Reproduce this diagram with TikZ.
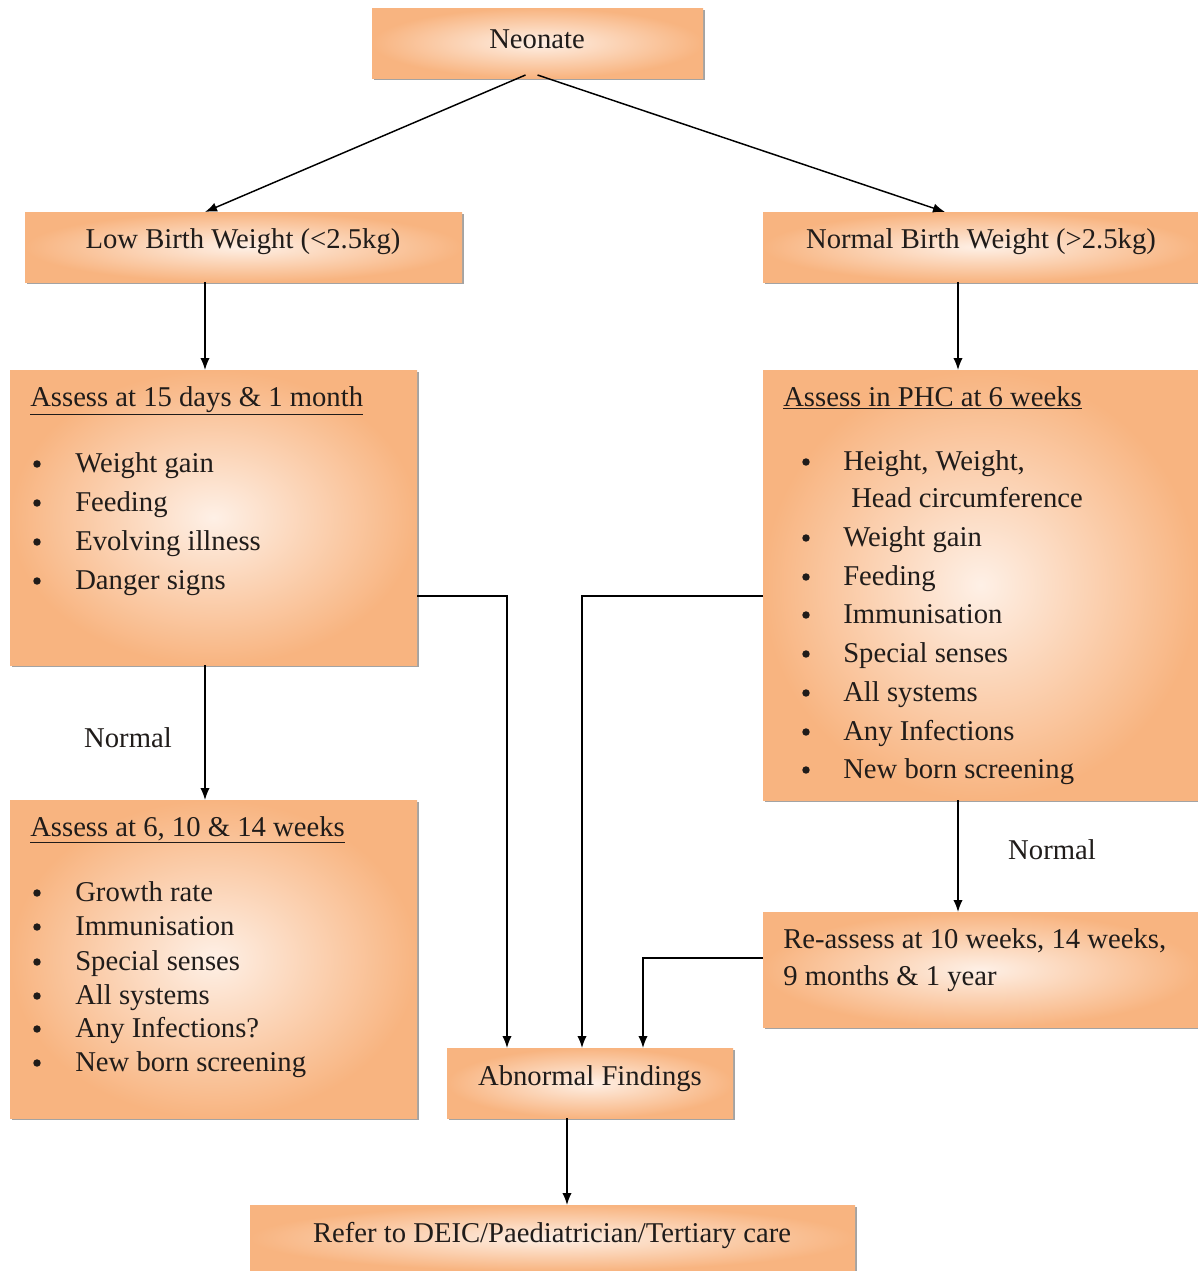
\documentclass[tikz,border=0pt]{standalone}
\usepackage{fontspec}
\setmainfont{Liberation Serif}
\usetikzlibrary{calc,shadows,arrows.meta}
\definecolor{boxdark}{RGB}{248,180,128}
\definecolor{boxlight}{RGB}{254,240,230}
\definecolor{txt}{RGB}{32,28,26}
\tikzset{
  box/.style={draw=none, inner color=boxlight, outer color=boxdark, anchor=north west,
    inner sep=0pt, outer sep=0pt,
    drop shadow={shadow xshift=1.6pt, shadow yshift=-1.6pt, fill=black!45, opacity=0.8}},
  tx/.style={font=\fontsize{21.5}{26}\selectfont, text=txt, inner sep=0pt, yshift=-1.5pt},
  lt/.style={font=\fontsize{21.5}{26}\selectfont, text=txt, inner sep=0pt, anchor=mid west, yshift=-4pt},
  bul/.style={circle, fill=txt, draw=none, inner sep=0pt, minimum size=5.6pt},
  arr/.style={-{Latex[length=9pt,width=7pt]}, line width=1.1pt, black}
}
\begin{document}
\begin{tikzpicture}[x=0.75pt,y=-0.75pt]
\useasboundingbox[fill=white] (0,0) rectangle (1198,1271);
% boxes
\node[box, minimum width=331*0.75pt, minimum height=70*0.75pt] (neo) at (372,8) {};
\node[box, minimum width=437*0.75pt, minimum height=70*0.75pt] (lbw) at (25,212) {};
\node[box, minimum width=435*0.75pt, minimum height=70*0.75pt] (nbw) at (763,212) {};
\node[box, minimum width=407*0.75pt, minimum height=295*0.75pt] (a15) at (10,370) {};
\node[box, minimum width=435*0.75pt, minimum height=430*0.75pt] (phc) at (763,370) {};
\node[box, minimum width=407*0.75pt, minimum height=318*0.75pt] (a6) at (10,800) {};
\node[box, minimum width=435*0.75pt, minimum height=115*0.75pt] (re) at (763,912) {};
\node[box, minimum width=286*0.75pt, minimum height=70*0.75pt] (abn) at (447,1048) {};
\node[box, minimum width=605*0.75pt, minimum height=66*0.75pt] (ref) at (250,1205) {};
% single texts
\node[tx] (tneo) at (537,37) {Neonate};
\node[tx] (tlbw) at (243,240) {Low Birth Weight (<2.5kg)};
\node[tx] (tnbw) at (981,240) {Normal Birth Weight (>2.5kg)};
\node[tx] (tabn) at (590,1077) {Abnormal Findings};
\node[tx] (tref) at (552,1233) {Refer to DEIC/Paediatrician/Tertiary care};
\node[lt] (tre1) at (783,940) {Re-assess at 10 weeks, 14 weeks,};
\node[lt] (tre2) at (783,977) {9 months \& 1 year};
\node[tx] (n1) at (128,736) {Normal};
\node[tx] (n2) at (1052,848) {Normal};
% headings
\node[lt] (h15) at (30,398) {\underline{Assess at 15 days \& 1 month}};
\node[lt] (hphc) at (783,398) {\underline{Assess in PHC at 6 weeks}};
\node[lt] (h6) at (30,828) {\underline{Assess at 6, 10 \& 14 weeks}};
% list 1
\foreach \y/\t [count=\i] in {464/Weight gain, 503/Feeding, 542/Evolving illness, 581/Danger signs}{
  \node[bul] (pa\i) at (37,\y) {};
  \node[lt] (la\i) at (75,\y) {\t};
}
% list phc
\node[bul] (pb0) at (806,462) {};
\node[lt] (lb0) at (843,462) {Height, Weight,};
\node[lt] (lb00) at (851,499) {Head circumference};
\foreach \y/\t [count=\i] in {538/Weight gain, 577/Feeding, 615/Immunisation, 654/Special senses, 693/All systems, 732/Any Infections, 770/New born screening}{
  \node[bul] (pb\i) at (806,\y) {};
  \node[lt] (lb\i) at (843,\y) {\t};
}
% list 6 weeks
\foreach \y/\t [count=\i] in {893/Growth rate, 927/Immunisation, 962/Special senses, 996/All systems, 1029/Any Infections?, 1063/New born screening}{
  \node[bul] (pc\i) at (37,\y) {};
  \node[lt] (lc\i) at (75,\y) {\t};
}
% columns/rows
\coordinate (lx) at (205,0);
\coordinate (rx) at (958,0);
\coordinate (rxa) at (945,0);
\coordinate (c1) at (507,0);
\coordinate (c2) at (582,0);
\coordinate (c3) at (643,0);
\coordinate (cx) at (567,0);
\coordinate (r1) at (0,596);
\coordinate (r2) at (0,958);
% connectors
\draw[arr] ($(neo.south)+(-12,-3)$) -- (lx |- lbw.north);
\draw[arr] ($(neo.south)+(0,-3)$) -- (rxa |- nbw.north);
\draw[arr] (lx |- lbw.south) -- (lx |- a15.north);
\draw[arr] (rx |- nbw.south) -- (rx |- phc.north);
\draw[arr] (lx |- a15.south) -- (lx |- a6.north);
\draw[arr] (rx |- phc.south) -- (rx |- re.north);
\draw[arr] (a15.east |- r1) -| (c1 |- abn.north);
\draw[arr] (phc.west |- r1) -| (c2 |- abn.north);
\draw[arr] (re.west |- r2) -| (c3 |- abn.north);
\draw[arr] (cx |- abn.south) -- (cx |- ref.north);
\end{tikzpicture}
\end{document}
